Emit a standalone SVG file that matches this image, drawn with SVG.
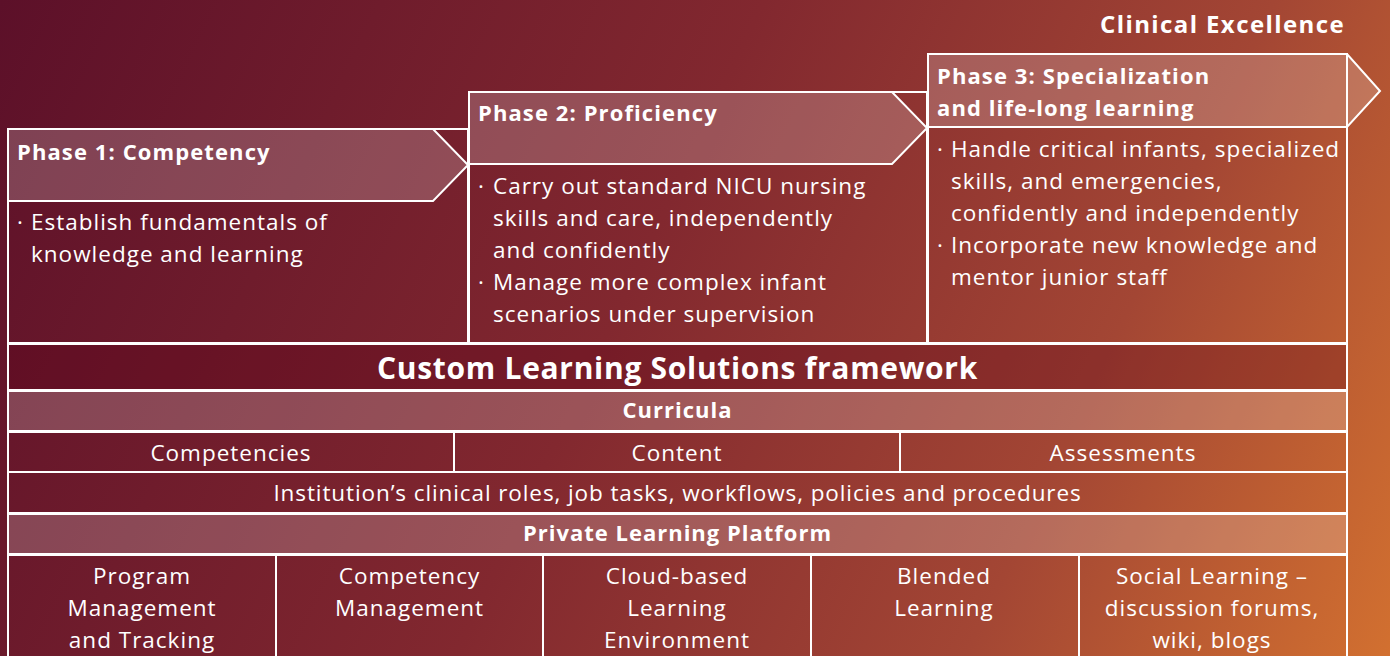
<svg xmlns="http://www.w3.org/2000/svg" width="1390" height="656" viewBox="0 0 1390 656">
<defs>
<linearGradient id="bg" gradientUnits="userSpaceOnUse" x1="0" y1="0" x2="1390" y2="656">
<stop offset="0" stop-color="#5c1029"/>
<stop offset="0.45" stop-color="#82282f"/>
<stop offset="0.75" stop-color="#a34634"/>
<stop offset="1" stop-color="#d27030"/>
</linearGradient>
<style>
.ln{fill:none;stroke:#ffffff;stroke-width:2}
.hd{fill:#ffffff;fill-opacity:0.2;stroke:#ffffff;stroke-width:2}
.dk{fill:#5a0018;fill-opacity:0.3;stroke:#ffffff;stroke-width:2}
.lt{fill:#ffffff;fill-opacity:0.2;stroke:#ffffff;stroke-width:2}
text{font-family:"Open Sans","Noto Sans",sans-serif;fill:#ffffff}
.b{font-weight:700;font-size:22px;letter-spacing:1.1px}
.r{font-size:22.5px;letter-spacing:1px}
.c{text-anchor:middle}
</style>
</defs>
<rect width="1390" height="656" fill="url(#bg)"/>
<text class="b" x="1345" y="33" text-anchor="end" style="font-size:24px;letter-spacing:1.4px">Clinical Excellence</text>

<g id="phase1">
<rect class="ln" x="8" y="129" width="460" height="214"/>
<polygon class="hd" points="8,129 433,129 468,165 433,201 8,201"/>
<text class="b" x="17" y="160">Phase 1: Competency</text>
<text class="r" x="17" y="230">·</text>
<text class="r" x="31" y="230">Establish fundamentals of</text>
<text class="r" x="31" y="262">knowledge and learning</text>
</g>

<g id="phase2">
<rect class="ln" x="469" y="92" width="458" height="251"/>
<polygon class="hd" points="469,92 892,92 927,128 892,164 469,164"/>
<text class="b" x="478" y="121">Phase 2: Proficiency</text>
<text class="r" x="478" y="194">·</text>
<text class="r" x="493" y="194">Carry out standard NICU nursing</text>
<text class="r" x="493" y="226">skills and care, independently</text>
<text class="r" x="493" y="258">and confidently</text>
<text class="r" x="478" y="290">·</text>
<text class="r" x="493" y="290">Manage more complex infant</text>
<text class="r" x="493" y="322">scenarios under supervision</text>
</g>

<g id="phase3">
<rect class="ln" x="928" y="54" width="419" height="289"/>
<polygon class="hd" points="928,54 1347,54 1380,91 1347,127 928,127"/>
<text class="b" x="937" y="84">Phase 3: Specialization</text>
<text class="b" x="937" y="116">and life-long learning</text>
<text class="r" x="937" y="157">·</text>
<text class="r" x="951" y="157">Handle critical infants, specialized</text>
<text class="r" x="951" y="189">skills, and emergencies,</text>
<text class="r" x="951" y="221">confidently and independently</text>
<text class="r" x="937" y="253">·</text>
<text class="r" x="951" y="253">Incorporate new knowledge and</text>
<text class="r" x="951" y="285">mentor junior staff</text>
</g>

<g id="framework">
<rect class="dk" x="8" y="344" width="1339" height="46"/>
<text class="b c" x="677.5" y="379" style="font-size:30px;letter-spacing:0.7px">Custom Learning Solutions framework</text>
</g>

<g id="curricula">
<rect class="lt" x="8" y="391" width="1339" height="40"/>
<text class="b c" x="677.5" y="418" style="letter-spacing:1px">Curricula</text>
</g>

<g id="competencies">
<rect class="ln" x="8" y="432" width="446" height="40"/>
<text class="r c" x="231" y="461">Competencies</text>
</g>
<g id="content">
<rect class="ln" x="454" y="432" width="446" height="40"/>
<text class="r c" x="677" y="461">Content</text>
</g>
<g id="assessments">
<rect class="ln" x="900" y="432" width="447" height="40"/>
<text class="r c" x="1123" y="461">Assessments</text>
</g>

<g id="institution">
<rect class="ln" x="8" y="472" width="1339" height="41"/>
<text class="r c" x="677.5" y="501" style="letter-spacing:0.9px">Institution’s clinical roles, job tasks, workflows, policies and procedures</text>
</g>

<g id="platform">
<rect class="lt" x="8" y="514" width="1339" height="40"/>
<text class="b c" x="677.5" y="541" style="letter-spacing:1px">Private Learning Platform</text>
</g>

<g id="program-management">
<rect class="ln" x="8" y="555" width="268" height="110"/>
<text class="r c" x="142" y="584">Program</text>
<text class="r c" x="142" y="616">Management</text>
<text class="r c" x="142" y="648">and Tracking</text>
</g>
<g id="competency-management">
<rect class="ln" x="276" y="555" width="267" height="110"/>
<text class="r c" x="409.5" y="584">Competency</text>
<text class="r c" x="409.5" y="616">Management</text>
</g>
<g id="cloud-based">
<rect class="ln" x="543" y="555" width="268" height="110"/>
<text class="r c" x="677" y="584">Cloud-based</text>
<text class="r c" x="677" y="616">Learning</text>
<text class="r c" x="677" y="648">Environment</text>
</g>
<g id="blended">
<rect class="ln" x="811" y="555" width="268" height="110"/>
<text class="r c" x="944" y="584">Blended</text>
<text class="r c" x="944" y="616">Learning</text>
</g>
<g id="social">
<rect class="ln" x="1079" y="555" width="268" height="110"/>
<text class="r c" x="1212" y="584">Social Learning –</text>
<text class="r c" x="1212" y="616">discussion forums,</text>
<text class="r c" x="1212" y="648">wiki, blogs</text>
</g>
<g id="connectors"></g>
</svg>
